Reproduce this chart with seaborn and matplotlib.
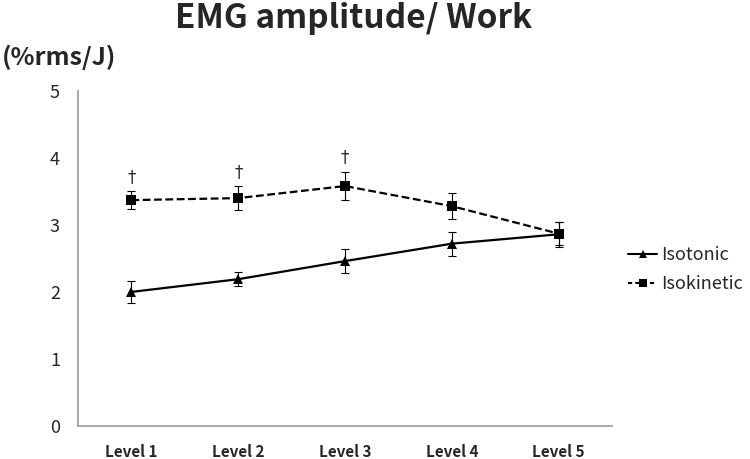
import matplotlib
matplotlib.use('Agg')
import matplotlib.pyplot as plt
from matplotlib.lines import Line2D
import seaborn as sns
import pandas as pd
import numpy as np

# data
levels = ['Level 1', 'Level 2', 'Level 3', 'Level 4', 'Level 5']
isotonic = [2.00, 2.19, 2.46, 2.72, 2.86]
isotonic_err = [0.17, 0.10, 0.18, 0.18, 0.19]
isokinetic = [3.37, 3.40, 3.58, 3.28, 2.87]
isokinetic_err = [0.13, 0.18, 0.21, 0.19, 0.17]
dagger_levels = ['Level 1', 'Level 2', 'Level 3']

sns.set_style('white')
plt.rcParams['font.family'] = ['Noto Sans CJK KR', 'DejaVu Sans']

df = pd.DataFrame({
    'level': levels * 2,
    'value': isotonic + isokinetic,
    'group': ['Isotonic'] * 5 + ['Isokinetic'] * 5,
})

fig = plt.figure(figsize=(7.5, 4.59), dpi=100)
ax = fig.add_axes([0.104, 0.072, 0.712, 0.730])

sns.lineplot(data=df, x='level', y='value', hue='group', style='group',
             palette={'Isotonic': 'black', 'Isokinetic': 'black'},
             markers={'Isotonic': '^', 'Isokinetic': 's'},
             dashes={'Isotonic': '', 'Isokinetic': (3.5, 1.6)},
             markersize=7, markeredgewidth=0, linewidth=1.6, sort=False,
             ax=ax, legend=False)

x = np.arange(len(levels))
ax.errorbar(x, isotonic, yerr=isotonic_err, fmt='none', ecolor='black',
            elinewidth=0.8, capsize=2.6, capthick=0.8)
ax.errorbar(x, isokinetic, yerr=isokinetic_err, fmt='none', ecolor='black',
            elinewidth=0.8, capsize=2.6, capthick=0.8)

# significance marks
for lv in dagger_levels:
    i = levels.index(lv)
    ax.text(i, isokinetic[i] + isokinetic_err[i] + 0.08, '\u2020',
            ha='center', va='bottom', fontsize=12, family='DejaVu Sans')

ax.set_xlim(-0.5, 4.5)
ax.set_ylim(0, 5)
ax.set_yticks([0, 1, 2, 3, 4, 5])
ax.set_xticks(x)
ax.set_xticklabels(levels, fontweight='bold', fontsize=11)
ax.set_xticks(np.arange(-0.5, 5, 1), minor=True)
ax.tick_params(axis='x', which='major', length=0, pad=13)
ax.tick_params(axis='x', which='minor', length=5, color='#999999', direction='out')
ax.tick_params(axis='y', length=5, color='#999999', direction='out', labelsize=13, pad=8)
ax.set_xlabel('')
ax.set_ylabel('')
for s in ['top', 'right']:
    ax.spines[s].set_visible(False)
for s in ['left', 'bottom']:
    ax.spines[s].set_color('#999999')
    ax.spines[s].set_linewidth(1.2)

fig.text(0.471, 0.995, 'EMG amplitude/ Work', ha='center', va='top',
         fontsize=24, fontweight='bold')
fig.text(0.003, 0.876, '(%rms/J)', ha='left', va='center',
         fontsize=18, fontweight='bold')

# legend
handles = [Line2D([], [], color='black', marker='^', linestyle='-', linewidth=1.5,
                  markersize=6, markeredgewidth=0),
           Line2D([], [], color='black', marker='s', linestyle=(0, (2, 1.5)), linewidth=1.5,
                  markersize=6, markeredgewidth=0)]
fig.legend(handles, ['Isotonic', 'Isokinetic'], loc='center left',
           bbox_to_anchor=(0.816, 0.412), frameon=False, fontsize=13,
           handlelength=1.6, handletextpad=0.2, labelspacing=0.6)

fig.savefig('out.png', dpi=100)
